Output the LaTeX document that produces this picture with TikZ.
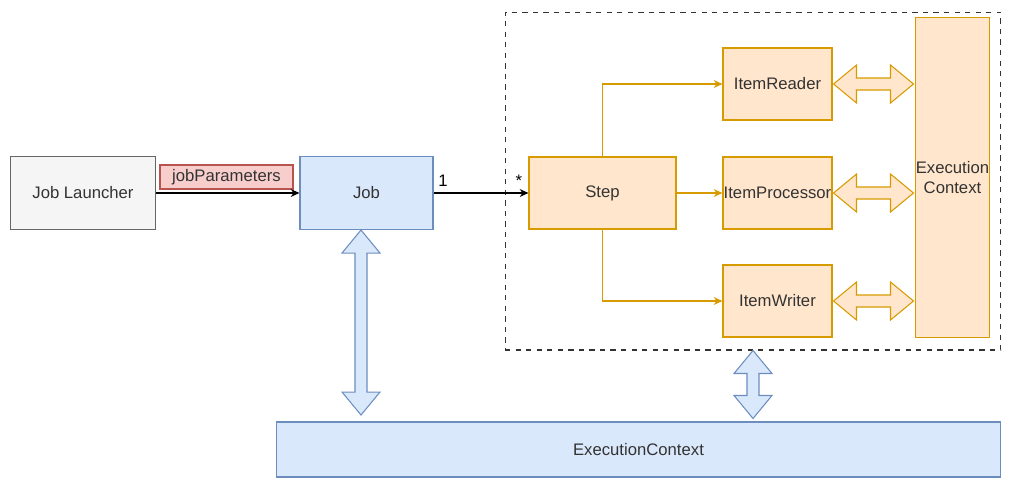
\documentclass[tikz,border=0pt]{standalone}
\usepackage{fontspec}
\setmainfont{Liberation Sans}
\usetikzlibrary{arrows.meta}

\definecolor{txtgray}{HTML}{333333}
\definecolor{graydraw}{HTML}{666666}
\definecolor{grayfill}{HTML}{F5F5F5}
\definecolor{reddraw}{HTML}{B85450}
\definecolor{redfill}{HTML}{F8CECC}
\definecolor{bluedraw}{HTML}{6C8EBF}
\definecolor{bluefill}{HTML}{DAE8FC}
\definecolor{orangedraw}{HTML}{D79B00}
\definecolor{orangefill}{HTML}{FFE6CC}

% horizontal and vertical double arrows, shaft length as argument
\newcommand{\hdbl}[1]{-- ++(23,-19) -- ++(0,13) -- ++(#1,0) -- ++(0,-13) -- ++(23,19) -- ++(-23,19) -- ++(0,-13) -- ++(-#1,0) -- ++(0,13) -- cycle}
\newcommand{\vdbl}[1]{-- ++(19,23) -- ++(-13,0) -- ++(0,#1) -- ++(13,0) -- ++(-19,23) -- ++(-19,-23) -- ++(13,0) -- ++(0,-#1) -- ++(-13,0) -- cycle}

\begin{document}
\begin{tikzpicture}[x=0.02cm, y=-0.02cm, line width=0.6pt,
  font=\fontsize{9.5}{11}\selectfont, text=txtgray,
  box/.style = {draw, rectangle, inner sep=0pt, align=center},
  gray/.style = {box, draw=graydraw, fill=grayfill},
  red/.style = {box, draw=reddraw, fill=redfill},
  blue/.style = {box, draw=bluedraw, fill=bluefill},
  orange/.style = {box, draw=orangedraw, fill=orangefill},
  job/.style = {minimum width=2.66cm, minimum height=1.46cm},
  item/.style = {orange, minimum width=2.18cm, minimum height=1.44cm},
  link/.style = {-{Stealth[length=5pt,width=4.5pt]}},
  orangedbl/.style = {draw=orangedraw, fill=orangefill, line join=miter},
  bluedbl/.style = {draw=bluedraw, fill=bluefill, line join=miter}]
\useasboundingbox (0,0) rectangle (1015,488);

\node[box, dashed, draw=txtgray, minimum width=9.92cm, minimum height=6.76cm] (scope) at (753,181) {};

\node[gray, minimum width=2.9cm, minimum height=1.46cm] (launcher) at (83,193) {Job Launcher};
\node[red, minimum width=2.66cm, minimum height=0.48cm] (params) at (226.5,177) {jobParameters};
\node[blue, job] (job) at (366.5,193) {Job};
\node[orange, minimum width=2.94cm, minimum height=1.44cm] (step) at (602.5,193) {Step};
\node[item] (reader) at (777.5,84) {ItemReader};
\node[item] (proc) at (777.5,193) {ItemProcessor};
\node[item] (writer) at (777.5,301) {ItemWriter};
\node[orange, minimum width=1.46cm, minimum height=6.4cm] (ctx) at (952.5,177.5) {Execution\\Context};
\node[blue, minimum width=14.5cm, minimum height=1.1cm] (jobctx) at (638.5,449.5) {ExecutionContext};

\draw[link, black] (launcher) -- (job);
\draw[link, black] (job) -- node[pos=0.1, above] {1} node[pos=0.9, above] {*} (step);
\draw[link, orangedraw] (step.north) |- (reader.west);
\draw[link, orangedraw] (step) -- (proc);
\draw[link, orangedraw] (step.south) |- (writer.west);

\foreach \n in {reader, proc, writer}
  \draw[orangedbl] ([xshift=0.02cm]\n.east) \hdbl{34};

\draw[bluedbl] ([xshift=-0.11cm]job.south) \vdbl{139};
\draw[bluedbl] (scope.south) \vdbl{22};
\end{tikzpicture}
\end{document}
